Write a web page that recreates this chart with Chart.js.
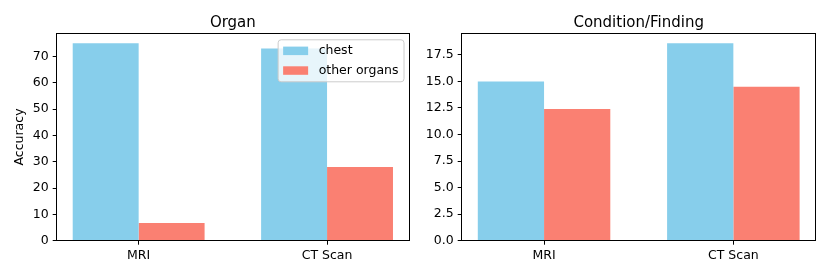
<!DOCTYPE html>
<html>
<head>
<meta charset="utf-8">
<script src="https://cdn.jsdelivr.net/npm/chart.js@4"></script>
<style>
  body { margin: 0; background: #fff; }
  #wrap { display: flex; width: 830px; height: 277px; }
  canvas { display: block; }
</style>
</head>
<body>
<div id="wrap">
  <canvas id="organ" width="415" height="277"></canvas>
  <canvas id="cond" width="415" height="277"></canvas>
</div>
<script>
// Dados
const modalidades = ['MRI', 'CT Scan'];
const series = ['chest', 'other organs'];
const organChest = [75, 73];
const organOutros = [6.7, 28];
const condChest = [15.0, 18.6];
const condOutros = [12.4, 14.5];
const cores = ['#87CEEB', '#FA8072'];

Chart.defaults.font.family = '"DejaVu Sans"';
Chart.defaults.color = '#000';

// Moldura completa (estilo matplotlib)
const moldura = {
  id: 'moldura',
  afterDatasetsDraw(chart) {
    const { ctx, chartArea: a } = chart;
    ctx.save();
    ctx.strokeStyle = '#000';
    ctx.lineWidth = 1;
    const x0 = Math.floor(a.left) + 0.5;
    const y0 = Math.floor(a.top) + 0.5;
    const x1 = Math.floor(a.right) + 0.5;
    const y1 = Math.floor(a.bottom) + 0.5;
    ctx.strokeRect(x0, y0, x1 - x0, y1 - y0);
    ctx.restore();
  }
};

// Legenda dentro da área do gráfico, canto superior direito
const legendaInterna = {
  id: 'legendaInterna',
  afterDraw(chart, args, opts) {
    if (!opts.display) return;
    const { ctx, chartArea: a } = chart;
    ctx.save();
    ctx.font = '12.5px "DejaVu Sans"';
    const larguraTexto = Math.max(...chart.data.datasets.map(d => ctx.measureText(d.label).width));
    const w = 5 + 25 + 10 + larguraTexto + 6;
    const h = 42;
    const x = a.right - 5 - w;
    const y = a.top + 6.5;
    ctx.beginPath();
    ctx.roundRect(x, y, w, h, 3);
    ctx.fillStyle = 'rgba(255,255,255,0.8)';
    ctx.fill();
    ctx.strokeStyle = '#cccccc';
    ctx.lineWidth = 1;
    ctx.stroke();
    chart.data.datasets.forEach((d, i) => {
      const cy = y + 11 + i * 19.7;
      ctx.fillStyle = d.backgroundColor;
      ctx.fillRect(x + 5, cy - 4.2, 25, 8.5);
      ctx.fillStyle = '#000';
      ctx.textBaseline = 'middle';
      ctx.textAlign = 'left';
      ctx.fillText(d.label, x + 40.5, cy);
    });
    ctx.restore();
  }
};

function criarGrafico(id, titulo, valoresChest, valoresOutros, cfg) {
  const fonteTick = { size: 12.5 };
  const maxY = Math.max(...valoresChest, ...valoresOutros) * 1.05;

  return new Chart(document.getElementById(id), {
    type: 'bar',
    data: {
      datasets: [valoresChest, valoresOutros].map((vals, k) => ({
        label: series[k],
        data: vals.map((v, i) => ({ x: i, y: v })),
        backgroundColor: cores[k],
        borderWidth: 0,
        categoryPercentage: 0.7,
        barPercentage: 1.0
      }))
    },
    options: {
      responsive: false,
      animation: false,
      devicePixelRatio: 1,
      layout: { padding: { top: 6, left: 0, right: cfg.padDireita, bottom: 0 } },
      plugins: {
        legend: { display: false },
        tooltip: { enabled: false },
        title: {
          display: true,
          text: titulo,
          fullSize: false,
          font: { size: 15, weight: 'normal' },
          color: '#000',
          padding: { top: 8.5, bottom: 0.8 }
        },
        legendaInterna: { display: cfg.legenda }
      },
      scales: {
        x: {
          type: 'linear',
          offset: false,
          min: -0.35 - 0.085,
          max: modalidades.length - 1 + 0.35 + 0.085,
          afterBuildTicks: s => { s.ticks = modalidades.map((_, i) => ({ value: i })); },
          afterFit: s => { s.height = 36.3; },
          ticks: {
            callback: v => modalidades[v],
            font: fonteTick,
            color: '#000',
            padding: 4,
            autoSkip: false,
            maxRotation: 0
          },
          grid: { offset: false, drawOnChartArea: false, drawTicks: true, tickLength: 4, color: '#000' },
          border: { display: false }
        },
        y: {
          min: 0,
          max: maxY,
          afterFit: s => { s.width = cfg.larguraEixo; },
          ticks: {
            stepSize: cfg.passo,
            includeBounds: false,
            callback: v => v.toFixed(cfg.decimais),
            font: fonteTick,
            color: '#000',
            padding: 4
          },
          grid: { drawOnChartArea: false, drawTicks: true, tickLength: 4, color: '#000' },
          border: { display: false },
          title: {
            display: !!cfg.tituloY,
            text: cfg.tituloY || '',
            font: fonteTick,
            color: '#000',
            padding: { top: 12.5, bottom: 0 }
          }
        }
      }
    },
    plugins: [moldura, legendaInterna]
  });
}

criarGrafico('organ', 'Organ', organChest, organOutros, {
  tituloY: 'Accuracy', passo: 10, decimais: 0, legenda: true, larguraEixo: 56.7, padDireita: 6
});
criarGrafico('cond', 'Condition/Finding', condChest, condOutros, {
  tituloY: '', passo: 2.5, decimais: 1, legenda: false, larguraEixo: 46.7, padDireita: 14.3
});
</script>
</body>
</html>
